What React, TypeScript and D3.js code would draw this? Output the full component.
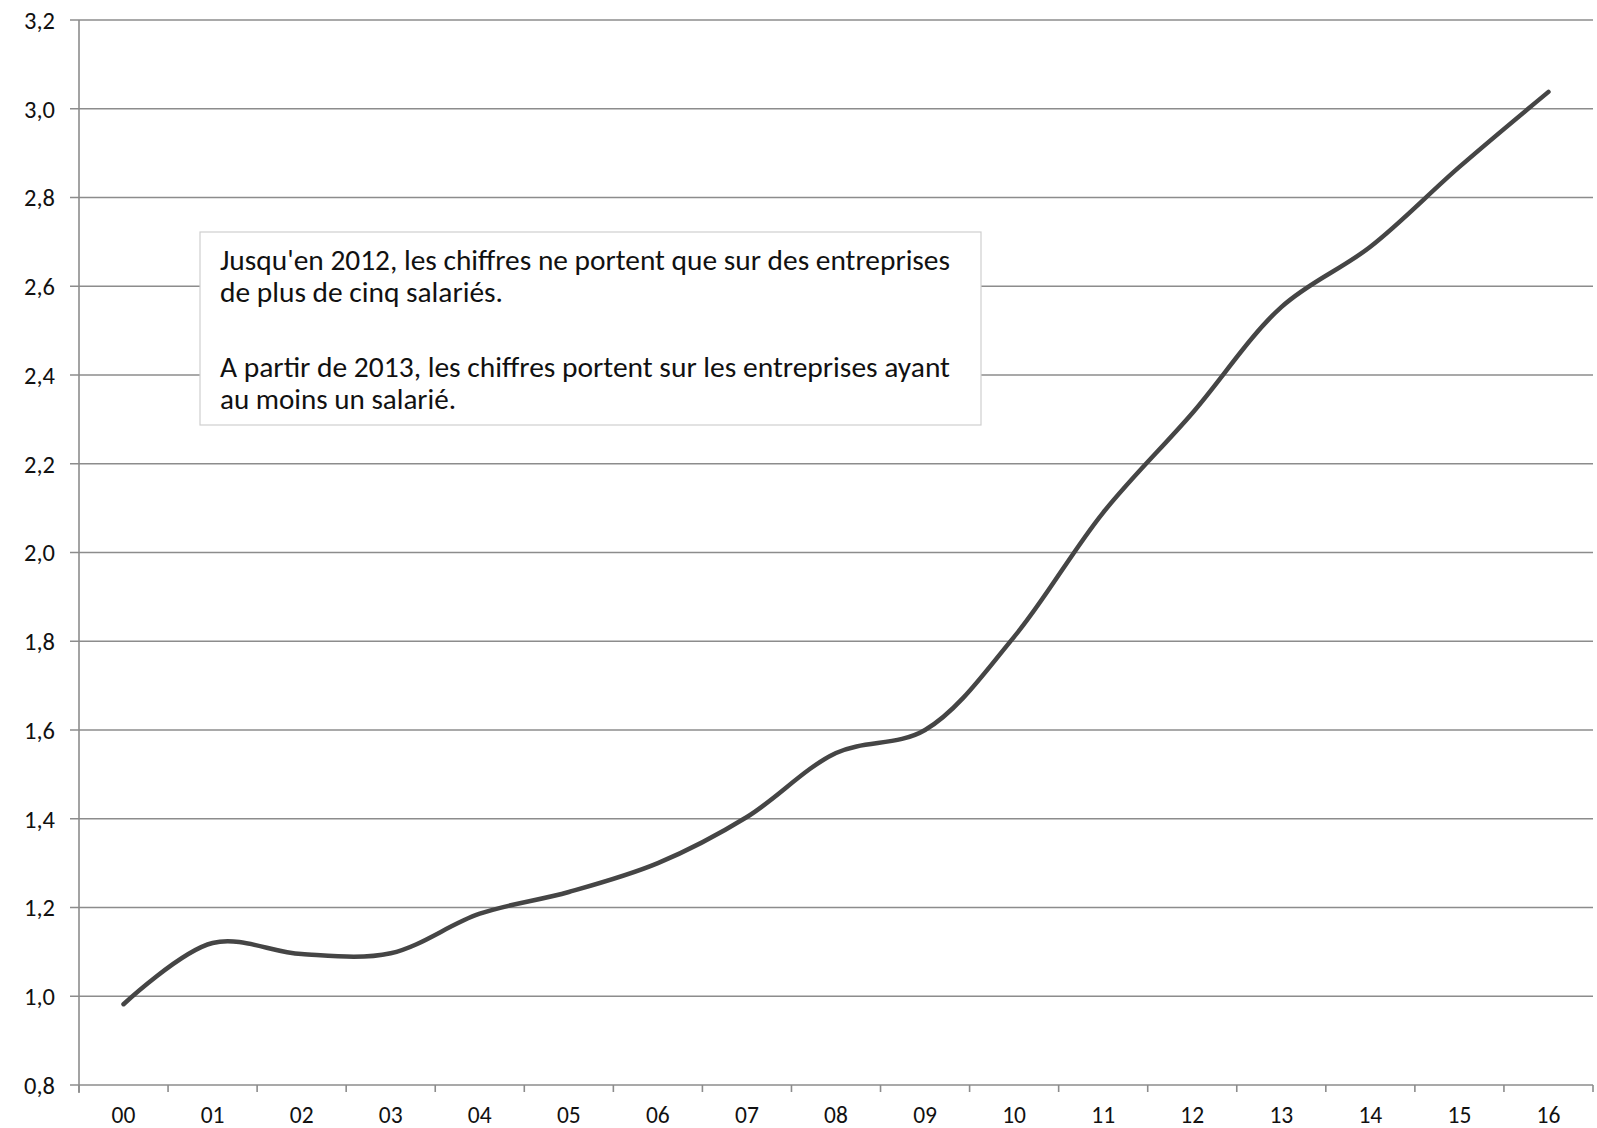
import React from "react";
import * as d3 from "d3";

const years = ["00","01","02","03","04","05","06","07","08","09","10","11","12","13","14","15","16"];
const values = [0.982, 1.12, 1.095, 1.097, 1.186, 1.235, 1.30, 1.404, 1.548, 1.60, 1.81, 2.09, 2.314, 2.553, 2.689, 2.869, 3.038];
const yTicks = [0.8, 1.0, 1.2, 1.4, 1.6, 1.8, 2.0, 2.2, 2.4, 2.6, 2.8, 3.0, 3.2];
const noteLines = [
  "Jusqu'en 2012, les chiffres ne portent que sur des entreprises",
  "de plus de cinq salariés.",
  "",
  "A partir de 2013, les chiffres portent sur les entreprises ayant",
  "au moins un salarié.",
];
const noteWidths = [730, 283, 0, 730, 236];

const W = 1597, H = 1128;
const L = 79, R = 1593, T = 20, B = 1085;
const FONT = "Carlito, Lato, 'Open Sans', sans-serif";

export default function App() {
  const x = d3.scaleBand<string>().domain(years).range([L, R]);
  const y = d3.scaleLinear().domain([0.8, 3.2]).range([B, T]);
  const fmt = (v: number) => v.toFixed(1).replace(".", ",");
  const line = d3
    .line<number>()
    .x((_, i) => (x(years[i]) as number) + x.bandwidth() / 2)
    .y((d) => y(d))
    .curve(d3.curveCatmullRom.alpha(0.5));
  const bounds = years.map((yr) => x(yr) as number).concat([R]);
  const grid = "#8c8c8c";
  const boxX = 200, boxY = 232, boxW = 781, boxH = 193;
  const lineYs = [270, 302, 0, 377, 409];

  return (
    <svg
      width={W}
      height={H}
      style={{ position: "absolute", left: 0, top: 0, display: "block", background: "#fff" }}
    >
      <rect x={0} y={0} width={W} height={H} fill="#fff" />
      {yTicks.map((t) => (
        <g key={t}>
          <line x1={L - 9} x2={R} y1={y(t)} y2={y(t)} stroke={grid} strokeWidth={1.6} />
          <text
            x={55}
            y={y(t)}
            dy="0.36em"
            textAnchor="end"
            fontFamily={FONT}
            fontSize={24.5}
            fill="#111"
          >
            {fmt(t)}
          </text>
        </g>
      ))}
      <line x1={L} x2={L} y1={T} y2={B + 8} stroke={grid} strokeWidth={1.6} />
      {bounds.map((bx, i) => (
        <line key={i} x1={bx} x2={bx} y1={B} y2={B + 7} stroke={grid} strokeWidth={1.6} />
      ))}
      {years.map((yr) => (
        <text
          key={yr}
          x={(x(yr) as number) + x.bandwidth() / 2}
          y={1123}
          textAnchor="middle"
          fontFamily={FONT}
          fontSize={23.5}
          fill="#111"
        >
          {yr}
        </text>
      ))}
      <rect x={boxX} y={boxY} width={boxW} height={boxH} fill="#fff" stroke="#cfcfcf" strokeWidth={1.2} />
      {noteLines.map((s, i) =>
        s ? (
          <text
            key={i}
            x={220}
            y={lineYs[i]}
            fontFamily={FONT}
            fontSize={28}
            fill="#111"
            textLength={noteWidths[i]}
            lengthAdjust="spacingAndGlyphs"
          >
            {s}
          </text>
        ) : null
      )}
      <path d={line(values) || ""} fill="none" stroke="#454545" strokeWidth={4.5} strokeLinecap="round" />
    </svg>
  );
}
